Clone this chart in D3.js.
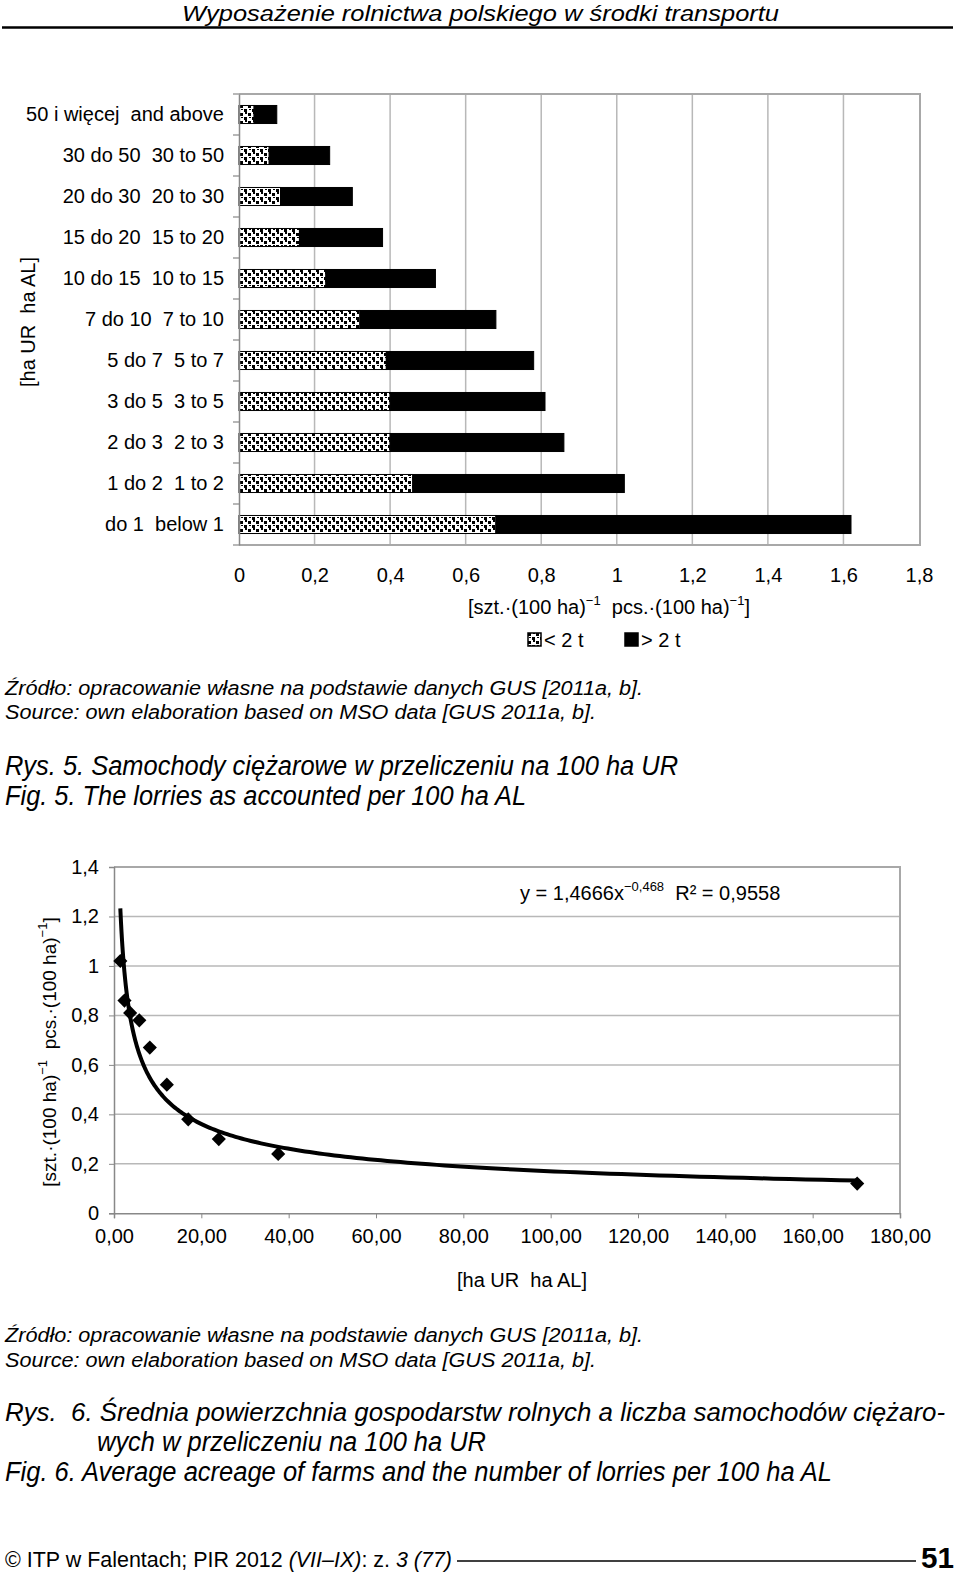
<!DOCTYPE html>
<html>
<head>
<meta charset="UTF-8">
<title>Lorries per 100 ha</title>
<script src="https://cdn.jsdelivr.net/npm/d3@7"></script>
<style>
    body { margin: 0; background: #fff; }
    text { font-family: "Liberation Sans", Arial, sans-serif; fill: #000; white-space: pre; }
    .narrow { font-family: "Liberation Sans Narrow", "Arial Narrow", "Liberation Sans", Arial, sans-serif; }
    .it { font-style: italic; }
</style>
</head>
<body>
<div id="page"></div>
<script>
    // --- data, chart 1 (Rys. 5) ---
    const sizeGroups = [
        "50 i więcej  and above", "30 do 50  30 to 50", "20 do 30  20 to 30",
        "15 do 20  15 to 20", "10 do 15  10 to 15", "7 do 10  7 to 10",
        "5 do 7  5 to 7", "3 do 5  3 to 5", "2 do 3  2 to 3",
        "1 do 2  1 to 2", "do 1  below 1"
    ];
    const under2t = [0.04, 0.08, 0.11, 0.16, 0.23, 0.32, 0.39, 0.40, 0.40, 0.46, 0.68];
    const over2t  = [0.06, 0.16, 0.19, 0.22, 0.29, 0.36, 0.39, 0.41, 0.46, 0.56, 0.94];
    const barTicks = [0, 0.2, 0.4, 0.6, 0.8, 1, 1.2, 1.4, 1.6, 1.8];

    // --- data, chart 2 (Rys. 6) ---
    const farmArea = [1.45, 2.4, 3.7, 5.8, 8.2, 12.1, 17.0, 24.0, 37.6, 170.2];
    const lorries  = [1.02, 0.86, 0.81, 0.78, 0.67, 0.52, 0.38, 0.30, 0.24, 0.12];
    const trendA = 1.4666, trendB = -0.468;   // y = a * x^b, from the chart label
    const scatterXTicks = [0, 20, 40, 60, 80, 100, 120, 140, 160, 180];
    const scatterYTicks = [0, 0.2, 0.4, 0.6, 0.8, 1, 1.2, 1.4];

    const comma = s => String(s).replace(".", ",");
    const fmt1 = v => comma(+v.toFixed(1));
    const fmt2 = v => comma(v.toFixed(2));
    const FS = 20; // chart text size

    const W = 960, H = 1577;
    const svg = d3.select("#page").append("svg").attr("width", W).attr("height", H);

    // pattern for "< 2 t" (confetti-like)
    const defs = svg.append("defs");
    const pat = defs.append("pattern").attr("id", "confetti")
        .attr("patternUnits", "userSpaceOnUse").attr("width", 8).attr("height", 8);
    pat.append("rect").attr("width", 8).attr("height", 8).attr("fill", "#fff");
    [[0, 1, 3, 3], [4, 5, 3, 3], [5, 0, 2, 2], [1, 5, 2, 1]].forEach(r =>
        pat.append("rect").attr("x", r[0]).attr("y", r[1]).attr("width", r[2]).attr("height", r[3]).attr("fill", "#000"));

    // ---------- header ----------
    svg.append("text").attr("class", "narrow it")
        .attr("x", 182).attr("y", 21).attr("font-size", 22)
        .attr("textLength", 597).attr("lengthAdjust", "spacingAndGlyphs")
        .text("Wyposażenie rolnictwa polskiego w środki transportu");
    svg.append("line").attr("x1", 2).attr("x2", 953).attr("y1", 27.5).attr("y2", 27.5)
        .attr("stroke", "#000").attr("stroke-width", 2.5);

    // ---------- chart 1 ----------
    const x1 = d3.scaleLinear().domain([0, 1.8]).range([239, 919]);
    const y1 = d3.scaleBand().domain(sizeGroups).range([94, 545]).paddingInner(0.56).paddingOuter(0.28);
    const g1 = svg.append("g");

    g1.selectAll("line.grid").data(barTicks.slice(1, -1)).enter().append("line")
        .attr("class", "grid")
        .attr("x1", d => x1(d)).attr("x2", d => x1(d)).attr("y1", 94).attr("y2", 545)
        .attr("stroke", "#b8b8b8").attr("stroke-width", 1.5);
    // plot frame
    g1.append("path").attr("d", `M239,94H920V545H239`).attr("fill", "none")
        .attr("stroke", "#a8a8a8").attr("stroke-width", 2);

    const rows = sizeGroups.map((c, i) => ({cat: c, under: under2t[i], over: over2t[i]}));
    const stacked = d3.stack().keys(["under", "over"])(rows);
    g1.selectAll("g.series").data(stacked).enter().append("g")
        .attr("class", "series")
        .attr("fill", d => d.key === "under" ? "url(#confetti)" : "#000")
        .selectAll("rect").data(d => d).enter().append("rect")
        .attr("x", d => x1(d[0])).attr("width", d => x1(d[1]) - x1(d[0]))
        .attr("y", d => y1(d.data.cat)).attr("height", y1.bandwidth())
        .attr("stroke", "#000").attr("stroke-width", 1);

    // left axis with ticks on band boundaries
    const step = y1.step();
    const yAxis1 = g1.append("g").attr("transform", "translate(239,0)")
        .call(d3.axisLeft(y1).tickSize(0).tickPadding(15));
    yAxis1.select(".domain").attr("stroke", "#888").attr("stroke-width", 1.5);
    yAxis1.selectAll("text").attr("font-size", FS).attr("font-family", null);
    g1.selectAll("line.btick").data(d3.range(sizeGroups.length + 1)).enter().append("line")
        .attr("class", "btick")
        .attr("x1", 233).attr("x2", 239).attr("y1", i => 94 + i * step).attr("y2", i => 94 + i * step)
        .attr("stroke", "#888").attr("stroke-width", 1.2);

    const xAxis1 = g1.append("g").attr("transform", "translate(0,565)")
        .call(d3.axisBottom(x1).tickValues(barTicks).tickFormat(fmt1).tickSize(0));
    xAxis1.select(".domain").remove();
    xAxis1.selectAll("text").attr("font-size", FS).attr("font-family", null);

    svg.append("text").attr("transform", "translate(35,322) rotate(-90)")
        .attr("text-anchor", "middle").attr("font-size", FS).text("[ha UR  ha AL]");

    const t1 = svg.append("text").attr("x", 468).attr("y", 614).attr("font-size", FS);
    t1.append("tspan").text("[szt.·(100 ha)");
    t1.append("tspan").attr("dy", -9).attr("font-size", 13).text("−1");
    t1.append("tspan").attr("dy", 9).text("  pcs.·(100 ha)");
    t1.append("tspan").attr("dy", -9).attr("font-size", 13).text("−1");
    t1.append("tspan").attr("dy", 9).text("]");

    const legend = [{label: "< 2 t", fill: "url(#confetti)", x: 528}, {label: "> 2 t", fill: "#000", x: 625}];
    const lg = svg.selectAll("g.legend").data(legend).enter().append("g").attr("class", "legend");
    lg.append("rect").attr("x", d => d.x).attr("y", 633).attr("width", 13).attr("height", 13)
        .attr("fill", d => d.fill).attr("stroke", "#000").attr("stroke-width", 1.5);
    lg.append("text").attr("x", d => d.x + 16).attr("y", 647).attr("font-size", FS).text(d => d.label);

    // source + caption 1
    const textLine = (x, y, size, len, str) => svg.append("text").attr("class", "narrow it")
        .attr("x", x).attr("y", y).attr("font-size", size)
        .attr("textLength", len).attr("lengthAdjust", "spacingAndGlyphs").text(str);
    textLine(5, 695, 20, 638, "Źródło: opracowanie własne na podstawie danych GUS [2011a, b].");
    textLine(5, 719, 20, 591, "Source: own elaboration based on MSO data [GUS 2011a, b].");
    textLine(5, 775, 27, 673, "Rys. 5. Samochody ciężarowe w przeliczeniu na 100 ha UR");
    textLine(5, 805, 27, 521, "Fig. 5. The lorries as accounted per 100 ha AL");

    // ---------- chart 2 ----------
    const x2 = d3.scaleLinear().domain([0, 180]).range([114, 900]);
    const y2 = d3.scaleLinear().domain([0, 1.4]).range([1213.3, 867]);
    const g2 = svg.append("g");

    g2.selectAll("line.grid").data(scatterYTicks.slice(1, -1)).enter().append("line")
        .attr("class", "grid")
        .attr("x1", 114).attr("x2", 900).attr("y1", d => y2(d)).attr("y2", d => y2(d))
        .attr("stroke", "#b8b8b8").attr("stroke-width", 1.5);
    g2.append("path").attr("d", `M114,${y2(1.4)}H900V${y2(0)}`).attr("fill", "none")
        .attr("stroke", "#a8a8a8").attr("stroke-width", 2);

    const xAxis2 = g2.append("g").attr("transform", `translate(0,${y2(0)})`)
        .call(d3.axisBottom(x2).tickValues(scatterXTicks).tickFormat(fmt2).tickSize(5).tickPadding(11));
    xAxis2.select(".domain").attr("stroke", "#888").attr("stroke-width", 1.5);
    xAxis2.selectAll("line").attr("stroke", "#888");
    xAxis2.selectAll("text").attr("font-size", FS).attr("font-family", null);

    const yAxis2 = g2.append("g").attr("transform", "translate(114,0)")
        .call(d3.axisLeft(y2).tickValues(scatterYTicks).tickFormat(fmt1).tickSize(5).tickPadding(10));
    yAxis2.select(".domain").attr("stroke", "#888").attr("stroke-width", 1.5);
    yAxis2.selectAll("line").attr("stroke", "#888");
    yAxis2.selectAll("text").attr("font-size", FS).attr("font-family", null);

    // trend line y = a*x^b over the data range
    const xMin = d3.min(farmArea), xMax = d3.max(farmArea);
    const trendX = d3.range(0, 201).map(i => xMin * Math.pow(xMax / xMin, i / 200));
    g2.append("path").datum(trendX)
        .attr("d", d3.line().x(d => x2(d)).y(d => y2(trendA * Math.pow(d, trendB))))
        .attr("fill", "none").attr("stroke", "#000").attr("stroke-width", 4);

    const diamond = d3.symbol().type(d3.symbolSquare).size(100);
    g2.selectAll("path.pt").data(farmArea).enter().append("path")
        .attr("class", "pt")
        .attr("d", diamond)
        .attr("transform", (d, i) => `translate(${x2(d)},${y2(lorries[i])}) rotate(45)`)
        .attr("fill", "#000");

    const eq = svg.append("text").attr("x", 520).attr("y", 900).attr("font-size", FS);
    eq.append("tspan").text("y = 1,4666x");
    eq.append("tspan").attr("dy", -9).attr("font-size", 13).text("−0,468");
    eq.append("tspan").attr("dy", 9).text("  R² = 0,9558");

    svg.append("text").attr("x", 522).attr("y", 1287).attr("text-anchor", "middle")
        .attr("font-size", FS).text("[ha UR  ha AL]");

    const t2 = svg.append("text").attr("transform", "translate(56,1052) rotate(-90)")
        .attr("text-anchor", "middle").attr("font-size", 19);
    t2.append("tspan").text("[szt.·(100 ha)");
    t2.append("tspan").attr("dy", -9).attr("font-size", 13).text("−1");
    t2.append("tspan").attr("dy", 9).text("  pcs.·(100 ha)");
    t2.append("tspan").attr("dy", -9).attr("font-size", 13).text("−1");
    t2.append("tspan").attr("dy", 9).text("]");

    textLine(5, 1342, 20, 638, "Źródło: opracowanie własne na podstawie danych GUS [2011a, b].");
    textLine(5, 1367, 20, 591, "Source: own elaboration based on MSO data [GUS 2011a, b].");
    textLine(5, 1421, 26, 940, "Rys.  6. Średnia powierzchnia gospodarstw rolnych a liczba samochodów ciężaro-");
    textLine(97, 1451, 27, 389, "wych w przeliczeniu na 100 ha UR");
    textLine(5, 1481, 27, 827, "Fig. 6. Average acreage of farms and the number of lorries per 100 ha AL");

    // ---------- footer ----------
    const ft = svg.append("text").attr("class", "narrow").attr("x", 5).attr("y", 1567)
        .attr("font-size", 22).attr("textLength", 447).attr("lengthAdjust", "spacingAndGlyphs");
    ft.append("tspan").text("© ITP w Falentach; PIR 2012 ");
    ft.append("tspan").attr("class", "it").text("(VII–IX)");
    ft.append("tspan").text(": z. ");
    ft.append("tspan").attr("class", "it").text("3 (77)");
    svg.append("line").attr("x1", 457).attr("x2", 916).attr("y1", 1561).attr("y2", 1561)
        .attr("stroke", "#000").attr("stroke-width", 1.5);
    svg.append("text").attr("class", "narrow").attr("x", 921).attr("y", 1568)
        .attr("font-size", 30).attr("font-weight", "bold")
        .attr("textLength", 33).attr("lengthAdjust", "spacingAndGlyphs").text("51");
</script>
</body>
</html>
